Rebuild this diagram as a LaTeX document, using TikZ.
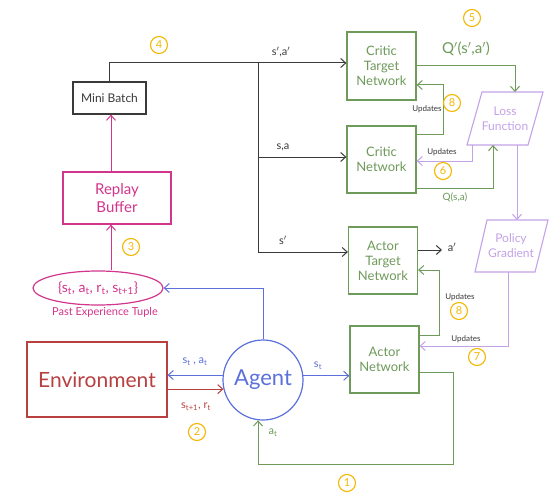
\documentclass[tikz,border=0pt]{standalone}
\usepackage{fontspec}
\setmainfont{Lato}
\usetikzlibrary{arrows.meta,calc,shapes.geometric}
\definecolor{cgreen}{HTML}{6E9A5A}
\definecolor{cpurple}{HTML}{C4A2E8}
\definecolor{cmag}{HTML}{D2358C}
\definecolor{cred}{HTML}{B84040}
\definecolor{cblue}{HTML}{5B70DA}
\definecolor{cyel}{HTML}{F5B800}
\definecolor{cgray}{HTML}{3A3A3A}
\newcommand{\sbs}[1]{\textsubscript{#1}}
\tikzset{
  every node/.style={inner sep=0pt},
  conn/.style={line width=1pt},
  arr/.style={conn,-{Straight Barb[length=5pt,width=9pt]}},
  box/.style={draw,line width=1.2pt,align=center,font=\fontsize{13}{15}\selectfont},
  gbox/.style={box,draw=cgreen,text=cgreen,minimum width=69pt,minimum height=67pt},
  num/.style={circle,draw=cyel,text=cyel,line width=1.1pt,minimum size=17pt,font=\fontsize{11}{11}\selectfont},
  lbl/.style={font=\fontsize{11}{11}\selectfont,text=cgray},
  upd/.style={font=\fontsize{8}{8}\selectfont,text=cgray},
  para/.style={draw=cpurple,line width=1.1pt},
}
\begin{document}
\begin{tikzpicture}[x=1pt,y=-1pt]
\useasboundingbox[fill=white] (0,0) rectangle (554,500);
% boxes
\node[box,draw=cgray,text=cgray,minimum width=73pt,minimum height=32pt,font=\fontsize{12}{14}\selectfont] (mb) at (109.5,98) {Mini Batch};
\node[box,draw=cmag,text=cmag,minimum width=108pt,minimum height=52pt,font=\fontsize{15}{18}\selectfont] (rb) at (117,198) {Replay\\ Buffer};
\node[gbox,minimum height=68pt] (ct) at (381.5,66) {Critic\\Target\\Network};
\node[gbox] (cn) at (381.5,159.5) {Critic\\Network};
\node[gbox] (at) at (383,260.5) {Actor\\Target\\Network};
\node[gbox] (an) at (384.5,359.5) {Actor\\Network};
\node[box,draw=cred,text=cred,minimum width=140pt,minimum height=75pt,font=\fontsize{21}{21}\selectfont] (env) at (97,379.5) {Environment};
\node[circle,draw=cblue,text=cblue,line width=1.2pt,minimum size=80pt,font=\fontsize{22}{22}\selectfont] (ag) at (263,380) {Agent};
\node[ellipse,draw=cmag,text=cmag,line width=1.2pt,minimum width=130pt,minimum height=34pt,font=\fontsize{14}{14}\selectfont] (tp) at (98,288) {\{s\sbs{t}, a\sbs{t}, r\sbs{t}, s\sbs{t+1}\}};
\node[text=cmag,font=\fontsize{11}{11}\selectfont] (tpl) at (105,312) {Past Experience Tuple};
% parallelograms
\draw[para] (482,92) -- (543,92) -- (528,145) -- (467,145) -- cycle;
\node[text=cpurple,align=center,font=\fontsize{12}{15}\selectfont] (loss) at (505,118.5) {Loss\\Function};
\draw[para] (487,220) -- (548,220) -- (535,272) -- (475,272) -- cycle;
\node[text=cpurple,align=center,font=\fontsize{12}{15}\selectfont] (pg) at (511,246) {Policy\\Gradient};
\coordinate (lossT) at (515,92);
\coordinate (lossB1) at (472,145);
\coordinate (lossB2) at (493,145);
\coordinate (lossB3) at (517,145);
\coordinate (pgT) at (517,220);
\coordinate (pgB) at (508,272);
% black mini batch lines
\coordinate (j1) at (258,63);
\coordinate (j3) at (258,252);
\draw[conn,cgray] (mb.north) |- (j1);
\draw[arr,cgray] (j1) -- (ct.west |- j1);
\draw[conn,cgray] (j1) -- (j3);
\draw[arr,cgray] (j1) |- (cn.west |- 0,157);
\draw[arr,cgray] (j3) -- (at.west |- j3);
\node[lbl] (l1) at (281,52) {s$'$,a$'$};
\node[lbl] (l2) at (283,147) {s,a};
\node[lbl] (l3) at (283,240) {s$'$};
% critic side
\draw[arr,cgreen] (ct.east) -| (lossT);
\node[text=cgreen,font=\fontsize{15}{15}\selectfont] (qp) at (466,49) {Q$'$(s$'$,a$'$)};
\draw[arr,cgreen] (cn.east |- 0,135) -- (443,135) -- (443,85) -- (ct.east |- 0,85);
\node[upd] (u1) at (427,109) {Updates};
\draw[arr,cpurple] (lossB1) |- (cn.east |- 0,161);
\node[upd] (u2) at (442,152) {Updates};
\draw[arr,cgreen] (cn.east |- 0,188) -| (lossB2);
\node[text=cgreen,font=\fontsize{10}{10}\selectfont] (q) at (455,197) {Q(s,a)};
\draw[arr,cpurple] (lossB3) -- (pgT);
% actor side
\draw[arr,cgray] (at.east |- 0,250) -- (442,250);
\node[lbl] (ap) at (452,247) {a$'$};
\draw[arr,cgreen] (an.east |- 0,335) -- (439,335) -- (439,270) -- (at.east |- 0,270);
\node[upd] (u3) at (460,297) {Updates};
\draw[arr,cpurple] (pgB) |- (an.east |- 0,346);
\node[upd] (u4) at (466,339) {Updates};
\draw[arr,cgreen] (an.east |- 0,372) -- (453,372) -- (453,464) -- (ag.263 |- 0,464) -- (ag.263);
\node[text=cgreen,font=\fontsize{11}{11}\selectfont] (at1) at (273,433) {a\sbs{t}};
% agent links
\draw[arr,cblue] (ag.6) -- (an.west |- ag.6);
\node[text=cblue,font=\fontsize{11}{11}\selectfont] (st) at (318,366) {s\sbs{t}};
\draw[arr,cblue] (ag.north) |- (tp.east);
\draw[arr,cblue] (ag.173) -- (env.east |- ag.173);
\node[text=cblue,font=\fontsize{11}{11}\selectfont] (sa) at (195,362) {s\sbs{t} , a\sbs{t}};
\draw[arr,cred] (env.east |- ag.193) -- (ag.193);
\node[text=cred,font=\fontsize{11}{11}\selectfont] (sr) at (196,407) {s\sbs{t+1}, r\sbs{t}};
% magenta
\coordinate (col) at (111,0);
\draw[arr,cmag] (tp.north -| col) -- (rb.south -| col);
\draw[arr,cmag] (rb.north -| col) -- (mb.south -| col);
% numbers
\node[num] (n4) at (159,45) {4};
\node[num] (n5) at (472,18) {5};
\node[num] (n8a) at (452,103) {8};
\node[num] (n6) at (443,171) {6};
\node[num] (n3) at (131,247) {3};
\node[num] (n2) at (197,432) {2};
\node[num] (n8b) at (459,311) {8};
\node[num] (n7) at (477,357) {7};
\node[num] (n1) at (347,483) {1};
\end{tikzpicture}
\end{document}
